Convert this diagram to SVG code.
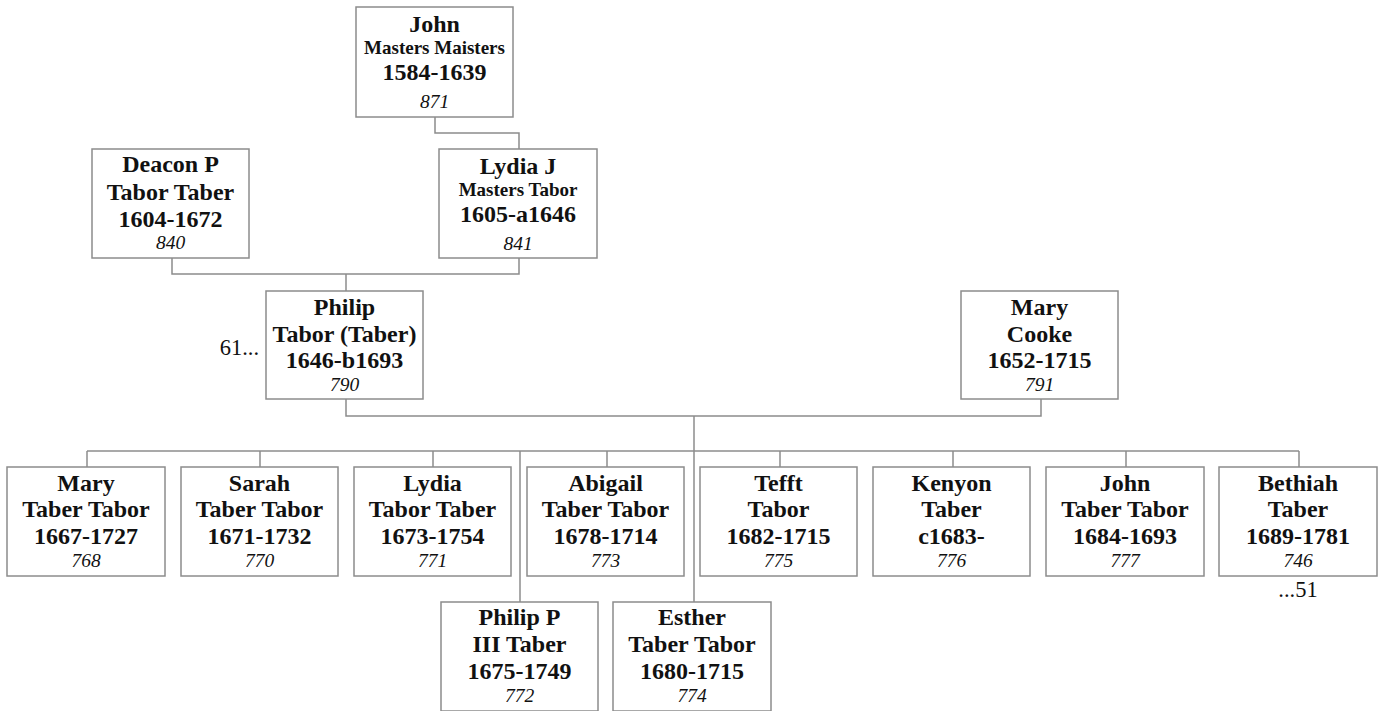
<svg xmlns="http://www.w3.org/2000/svg" width="1382" height="711" viewBox="0 0 1382 711">
<style>
.box{fill:#fff;stroke:#8c8c8c;stroke-width:1.5}
.ln{fill:none;stroke:#8c8c8c;stroke-width:1.5}
text{font-family:"Liberation Serif","Times New Roman",serif;fill:#111;text-anchor:middle}
.b{font-weight:bold;font-size:24px}
.s{font-weight:bold;font-size:19px}
.n{font-style:italic;font-size:19.5px}
.r{font-size:22.5px}
</style>
<rect width="1382" height="711" fill="#fff"/>
<g id="connectors">
<polyline class="ln" points="435,117 435,133 519,133 519,149"/>
<polyline class="ln" points="172,258 172,274 519,274 519,258"/>
<line class="ln" x1="346" y1="274" x2="346" y2="291"/>
<polyline class="ln" points="346,399 346,416 1041,416 1041,399"/>
<line class="ln" x1="694" y1="416" x2="694" y2="602"/>
<line class="ln" x1="87" y1="451" x2="1299" y2="451"/>
<line class="ln" x1="87" y1="451" x2="87" y2="467"/>
<line class="ln" x1="260" y1="451" x2="260" y2="467"/>
<line class="ln" x1="433" y1="451" x2="433" y2="467"/>
<line class="ln" x1="607" y1="451" x2="607" y2="467"/>
<line class="ln" x1="780" y1="451" x2="780" y2="467"/>
<line class="ln" x1="953" y1="451" x2="953" y2="467"/>
<line class="ln" x1="1126" y1="451" x2="1126" y2="467"/>
<line class="ln" x1="1299" y1="451" x2="1299" y2="467"/>
<line class="ln" x1="520" y1="451" x2="520" y2="602"/>
</g>
<g id="n871"><rect class="box" x="356" y="7" width="157" height="110"/>
<text class="b" x="434.5" y="32">John</text><text class="s" x="434.5" y="54">Masters Maisters</text><text class="b" x="434.5" y="80">1584-1639</text><text class="n" x="434.5" y="108">871</text></g>
<g id="n840"><rect class="box" x="92" y="149" width="157" height="109"/>
<text class="b" x="170.5" y="172">Deacon P</text><text class="b" x="170.5" y="200">Tabor Taber</text><text class="b" x="170.5" y="227">1604-1672</text><text class="n" x="170.5" y="249">840</text></g>
<g id="n841"><rect class="box" x="439" y="149" width="158" height="109"/>
<text class="b" x="518" y="174">Lydia J</text><text class="s" x="518" y="196">Masters Tabor</text><text class="b" x="518" y="222">1605-a1646</text><text class="n" x="518" y="250">841</text></g>
<g id="n790"><rect class="box" x="266" y="291" width="157" height="108"/>
<text class="b" x="344.5" y="315">Philip</text><text class="b" x="344.5" y="342">Tabor (Taber)</text><text class="b" x="344.5" y="368">1646-b1693</text><text class="n" x="344.5" y="391">790</text></g>
<text class="r" x="259" y="355" style="text-anchor:end">61...</text>
<g id="n791"><rect class="box" x="961" y="291" width="157" height="108"/>
<text class="b" x="1039.5" y="315">Mary</text><text class="b" x="1039.5" y="342">Cooke</text><text class="b" x="1039.5" y="368">1652-1715</text><text class="n" x="1039.5" y="391">791</text></g>
<g id="n768"><rect class="box" x="7" y="467" width="158" height="109"/>
<text class="b" x="86" y="491">Mary</text><text class="b" x="86" y="517">Taber Tabor</text><text class="b" x="86" y="544">1667-1727</text><text class="n" x="86" y="567">768</text></g>
<g id="n770"><rect class="box" x="181" y="467" width="157" height="109"/>
<text class="b" x="259.5" y="491">Sarah</text><text class="b" x="259.5" y="517">Taber Tabor</text><text class="b" x="259.5" y="544">1671-1732</text><text class="n" x="259.5" y="567">770</text></g>
<g id="n771"><rect class="box" x="354" y="467" width="157" height="109"/>
<text class="b" x="432.5" y="491">Lydia</text><text class="b" x="432.5" y="517">Tabor Taber</text><text class="b" x="432.5" y="544">1673-1754</text><text class="n" x="432.5" y="567">771</text></g>
<g id="n773"><rect class="box" x="527" y="467" width="157" height="109"/>
<text class="b" x="605.5" y="491">Abigail</text><text class="b" x="605.5" y="517">Taber Tabor</text><text class="b" x="605.5" y="544">1678-1714</text><text class="n" x="605.5" y="567">773</text></g>
<g id="n775"><rect class="box" x="700" y="467" width="157" height="109"/>
<text class="b" x="778.5" y="491">Tefft</text><text class="b" x="778.5" y="517">Tabor</text><text class="b" x="778.5" y="544">1682-1715</text><text class="n" x="778.5" y="567">775</text></g>
<g id="n776"><rect class="box" x="873" y="467" width="157" height="109"/>
<text class="b" x="951.5" y="491">Kenyon</text><text class="b" x="951.5" y="517">Taber</text><text class="b" x="951.5" y="544">c1683-</text><text class="n" x="951.5" y="567">776</text></g>
<g id="n777"><rect class="box" x="1046" y="467" width="158" height="109"/>
<text class="b" x="1125" y="491">John</text><text class="b" x="1125" y="517">Taber Tabor</text><text class="b" x="1125" y="544">1684-1693</text><text class="n" x="1125" y="567">777</text></g>
<g id="n746"><rect class="box" x="1219" y="467" width="158" height="109"/>
<text class="b" x="1298" y="491">Bethiah</text><text class="b" x="1298" y="517">Taber</text><text class="b" x="1298" y="544">1689-1781</text><text class="n" x="1298" y="567">746</text></g>
<text class="r" x="1298" y="597">...51</text>
<g id="n772"><rect class="box" x="441" y="602" width="157" height="109"/>
<text class="b" x="519.5" y="625">Philip P</text><text class="b" x="519.5" y="652">III Taber</text><text class="b" x="519.5" y="679">1675-1749</text><text class="n" x="519.5" y="702">772</text></g>
<g id="n774"><rect class="box" x="613" y="602" width="158" height="109"/>
<text class="b" x="692" y="625">Esther</text><text class="b" x="692" y="652">Taber Tabor</text><text class="b" x="692" y="679">1680-1715</text><text class="n" x="692" y="702">774</text></g>
</svg>
